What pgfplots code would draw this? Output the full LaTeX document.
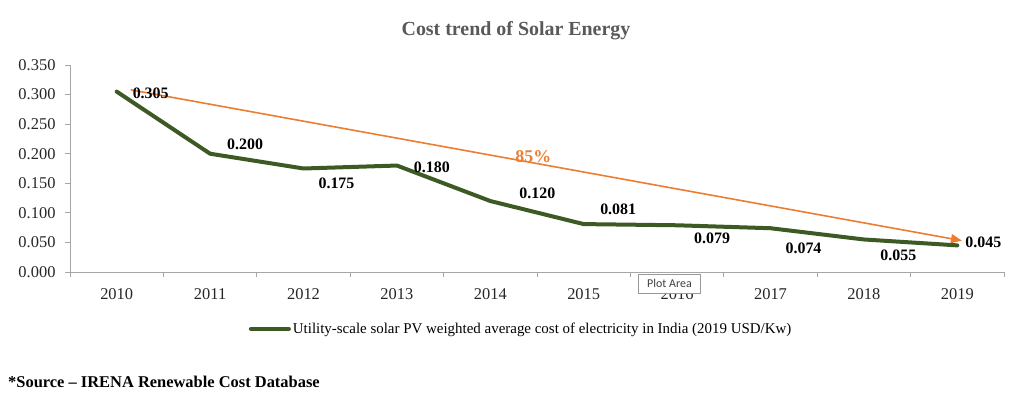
\documentclass[border=0pt]{standalone}
\usepackage{fontspec}
\setmainfont{Liberation Serif}
\newfontfamily\uifont{Carlito}
\usepackage{pgfplots}
\pgfplotsset{compat=1.18}
\usetikzlibrary{arrows.meta}
\definecolor{lineGreen}{RGB}{62,90,36}
\definecolor{arrowOrange}{RGB}{237,125,49}
\definecolor{axisGray}{RGB}{166,166,166}
\definecolor{titleGray}{RGB}{89,89,89}
\begin{document}
\begin{tikzpicture}
\path[use as bounding box] (0bp,0bp) rectangle (1024bp,399bp);
\begin{axis}[
  at={(70bp,127bp)}, anchor=south west,
  scale only axis, width=934bp, height=207bp,
  xmin=-0.5, xmax=9.5, ymin=0, ymax=0.35,
  axis x line*=bottom, axis y line*=left,
  axis line style={-, draw=axisGray, line width=0.8bp},
  xtick={0,1,2,3,4,5,6,7,8,9},
  xticklabels={2010,2011,2012,2013,2014,2015,2016,2017,2018,2019},
  minor xtick={-0.5,0.5,1.5,2.5,3.5,4.5,5.5,6.5,7.5,8.5,9.5},
  ytick={0,0.05,0.1,0.15,0.2,0.25,0.3,0.35},
  tick align=outside, major tick length=5bp, minor tick length=5bp,
  major x tick style={draw=none},
  tick style={draw=axisGray, line width=0.8bp},
  tick label style={font=\fontsize{16.5}{19}\selectfont, text=black!85},
  x tick label style={yshift=-8bp},
  /pgf/number format/assume math mode=true,
  y tick label style={/pgf/number format/fixed, /pgf/number format/fixed zerofill, /pgf/number format/precision=3, xshift=-6bp},
  legend style={at={(0.483,-0.275)}, anchor=center, draw=none, fill=none,
     font=\fontsize{15}{18}\selectfont, inner sep=0pt},
  legend image code/.code={\draw[lineGreen, line width=4bp] (0bp,0bp) -- (38bp,0bp);},
  clip=false,
]
\addplot[lineGreen, line width=4bp, line join=round, line cap=round, mark=none] coordinates {
  (0,0.305) (1,0.200) (2,0.175) (3,0.180) (4,0.120)
  (5,0.081) (6,0.079) (7,0.074) (8,0.055) (9,0.045)};
\addlegendentry{Utility-scale solar PV weighted average cost of electricity in India (2019 USD/Kw)}
\addplot[forget plot, arrowOrange, line width=1.6bp, -{Triangle[length=11bp,width=9bp]}] coordinates {(0.15,0.308) (9.05,0.053)};
\node[font=\bfseries\fontsize{18}{21}\selectfont, text=arrowOrange] at (axis cs:4.46,0.195) {85\%};
\tikzset{lbl/.style={font=\bfseries\fontsize{16}{19}\selectfont}}
\node[lbl, xshift=34bp, yshift=-2bp] at (axis cs:0,0.305) {0.305};
\node[lbl, xshift=35bp, yshift=9bp] at (axis cs:1,0.200) {0.200};
\node[lbl, xshift=33bp, yshift=-14.5bp] at (axis cs:2,0.175) {0.175};
\node[lbl, xshift=35bp, yshift=-1.5bp] at (axis cs:3,0.180) {0.180};
\node[lbl, xshift=47bp, yshift=8bp] at (axis cs:4,0.120) {0.120};
\node[lbl, xshift=34.5bp, yshift=15bp] at (axis cs:5,0.081) {0.081};
\node[lbl, xshift=35bp, yshift=-13bp] at (axis cs:6,0.079) {0.079};
\node[lbl, xshift=33bp, yshift=-20bp] at (axis cs:7,0.074) {0.074};
\node[lbl, xshift=34.5bp, yshift=-15.5bp] at (axis cs:8,0.055) {0.055};
\node[lbl, xshift=26bp, yshift=3bp] at (axis cs:9,0.045) {0.045};
\end{axis}
\node[font=\bfseries\fontsize{20}{24}\selectfont, text=titleGray] at (516bp,368bp) {Cost trend of Solar Energy};
\node[anchor=west, font=\bfseries\fontsize{16.5}{19}\selectfont, inner sep=0pt] at (8bp,17bp) {*Source – IRENA Renewable Cost Database};
\node[draw=gray!80, fill=white, font=\uifont\fontsize{12}{14}\selectfont, text=black!75, inner sep=0pt, minimum width=62bp, minimum height=19bp] at (669.5bp,115.5bp) {Plot Area};
\end{tikzpicture}
\end{document}
